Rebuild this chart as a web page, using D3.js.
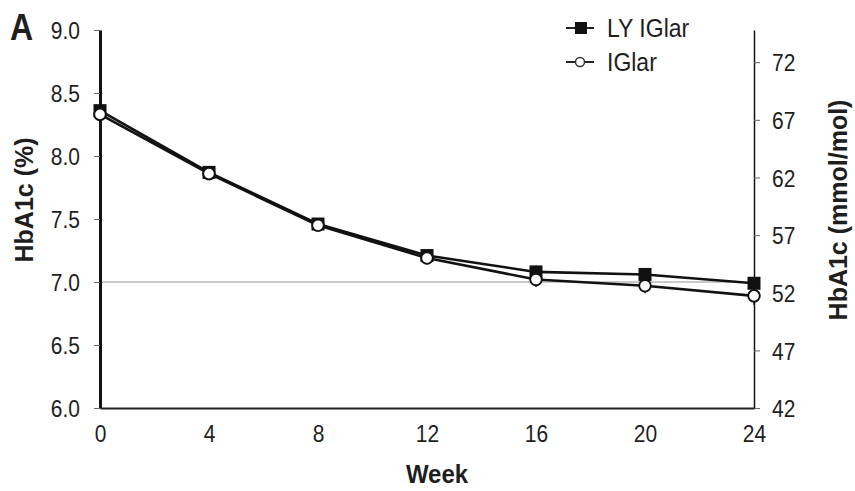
<!DOCTYPE html>
<html>
<head>
<meta charset="utf-8">
<script src="https://cdn.jsdelivr.net/npm/d3@7"></script>
<style>
  html, body { margin: 0; padding: 0; background: #fff; }
  svg text { font-family: "Liberation Sans", Arial, Helvetica, sans-serif; fill: #1e1e1e; }
</style>
</head>
<body>
<svg id="chart" width="855" height="491"></svg>
<script>
// HbA1c over 24 weeks of treatment
const weeks = [0, 4, 8, 12, 16, 20, 24];
const lyIGlar = [8.36, 7.87, 7.46, 7.21, 7.08, 7.06, 6.99];
const iGlar   = [8.33, 7.86, 7.45, 7.19, 7.02, 6.97, 6.89];
const lyErr   = [0.05, 0.04, 0.04, 0.04, 0.05, 0.05, 0.05];
const iErr    = [0.06, 0.04, 0.04, 0.05, 0.06, 0.06, 0.07];
const pctTicks  = [6.0, 6.5, 7.0, 7.5, 8.0, 8.5, 9.0];
const mmolTicks = [42, 47, 52, 57, 62, 67, 72];
const weekTicks = [0, 4, 8, 12, 16, 20, 24];
const target = 7.0;

const svg = d3.select("#chart");
const plotLeft = 100, plotRight = 754, plotTop = 30, plotBottom = 408;
const tall = 1.15; // glyphs are drawn slightly taller than wide

const x = d3.scaleLinear().domain([0, 24]).range([plotLeft, plotRight]);
const y = d3.scaleLinear().domain([6, 9]).range([plotBottom, plotTop]);
// IFCC conversion: mmol/mol = 10.929 * % - 23.5
const toMmol = p => 10.929 * p - 23.5;
const yR = d3.scaleLinear().domain([toMmol(6) - 0.07, toMmol(9) - 0.07]).range([plotBottom, plotTop]);

// target reference line
svg.append("line")
  .attr("x1", x(0)).attr("x2", x(24))
  .attr("y1", y(target)).attr("y2", y(target))
  .attr("stroke", "#b8b8b8").attr("stroke-width", 1.5);

// left axis (%)
const gL = svg.append("g").attr("transform", `translate(${plotLeft},0)`)
  .call(d3.axisLeft(y).tickValues(pctTicks).tickFormat(d3.format(".1f")).tickSize(6).tickSizeOuter(0).tickPadding(14));
gL.select(".domain").attr("stroke", "#111").attr("stroke-width", 3);
gL.selectAll(".tick line").attr("stroke", "#666").attr("stroke-width", 1);
gL.selectAll(".tick text").style("font-size", "21px").attr("dy", "0.36em")
  .attr("transform", `scale(1,${tall})`);

// right axis (mmol/mol)
const gR = svg.append("g").attr("transform", `translate(${plotRight},0)`)
  .call(d3.axisRight(yR).tickValues(mmolTicks).tickFormat(d3.format("d")).tickSize(6).tickSizeOuter(0).tickPadding(12));
gR.select(".domain").attr("stroke", "#111").attr("stroke-width", 1.5);
gR.selectAll(".tick line").attr("stroke", "#666").attr("stroke-width", 1);
gR.selectAll(".tick text").style("font-size", "21px").attr("dy", "0.36em")
  .attr("transform", `scale(1,${tall})`);

// bottom axis (week)
const gB = svg.append("g").attr("transform", `translate(0,${plotBottom})`)
  .call(d3.axisBottom(x).tickValues(weekTicks).tickFormat(d3.format("d")).tickSize(0).tickSizeOuter(0).tickPadding(15));
gB.select(".domain").attr("stroke", "#222").attr("stroke-width", 2);
gB.selectAll(".tick text").style("font-size", "21px")
  .attr("transform", `scale(1,${tall})`);

// series
const series = [
  { name: "LY IGlar", values: lyIGlar, err: lyErr, marker: "square" },
  { name: "IGlar", values: iGlar, err: iErr, marker: "circle" }
];

const line = d3.line().x((d, i) => x(weeks[i])).y(d => y(d));

series.forEach(s => {
  const g = svg.append("g");
  g.selectAll("line.err").data(s.values).join("line")
    .attr("class", "err")
    .attr("x1", (d, i) => x(weeks[i])).attr("x2", (d, i) => x(weeks[i]))
    .attr("y1", (d, i) => y(d - s.err[i])).attr("y2", (d, i) => y(d + s.err[i]))
    .attr("stroke", "#111").attr("stroke-width", 1.5);
  g.append("path").datum(s.values)
    .attr("d", line).attr("fill", "none")
    .attr("stroke", "#111").attr("stroke-width", 2.6);
});

series.forEach(s => {
  const g = svg.append("g");
  if (s.marker === "square") {
    g.selectAll("rect").data(s.values).join("rect")
      .attr("x", (d, i) => x(weeks[i]) - 6.5).attr("y", d => y(d) - 6.5)
      .attr("width", 13).attr("height", 13)
      .attr("fill", "#111");
  } else {
    g.selectAll("circle").data(s.values).join("circle")
      .attr("cx", (d, i) => x(weeks[i])).attr("cy", d => y(d))
      .attr("r", 5.8).attr("fill", "#fff")
      .attr("stroke", "#111").attr("stroke-width", 1.9);
  }
});

// legend
const legend = svg.append("g");
series.forEach((s, i) => {
  const ly = 28 + i * 34;
  legend.append("line").attr("x1", 566).attr("x2", 594).attr("y1", ly).attr("y2", ly)
    .attr("stroke", "#222").attr("stroke-width", 2);
  if (s.marker === "square") {
    legend.append("rect").attr("x", 575).attr("y", ly - 6).attr("width", 12).attr("height", 12).attr("fill", "#111");
  } else {
    legend.append("circle").attr("cx", 580).attr("cy", ly).attr("r", 4.5)
      .attr("fill", "#fff").attr("stroke", "#333").attr("stroke-width", 1.5);
  }
  legend.append("text").attr("transform", `translate(607,${ly}) scale(1,1.1)`).attr("dy", "0.36em")
    .style("font-size", "23px").text(s.name);
});

// titles
svg.append("text").attr("transform", "translate(10,40) scale(1,1.17)")
  .style("font-size", "32px").style("font-weight", "bold").text("A");

svg.append("text").attr("transform", "translate(437,483) scale(1,1.06)").attr("text-anchor", "middle")
  .style("font-size", "24px").style("font-weight", "bold").text("Week");

svg.append("text").attr("transform", "translate(33,200) rotate(-90)")
  .attr("text-anchor", "middle")
  .style("font-size", "25px").style("font-weight", "bold").text("HbA1c (%)");

svg.append("text").attr("transform", "translate(847,210) rotate(-90)")
  .attr("text-anchor", "middle")
  .style("font-size", "25px").style("font-weight", "bold").text("HbA1c (mmol/mol)");
</script>
</body>
</html>
